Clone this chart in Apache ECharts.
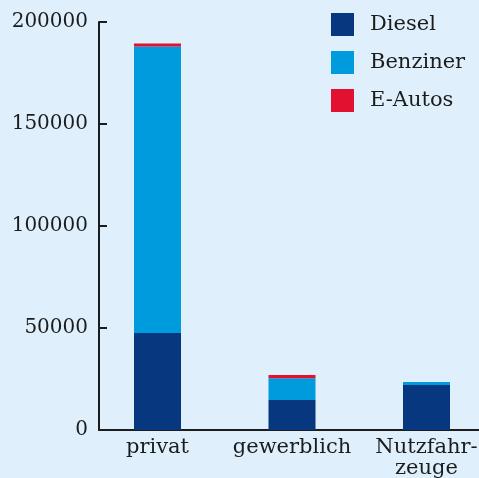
<!DOCTYPE html>
<html>
<head>
<meta charset="utf-8">
<script src="https://cdn.jsdelivr.net/npm/echarts@6/dist/echarts.min.js"></script>
<style>
  html, body { margin: 0; padding: 0; background: #dff0fc; }
  #main { width: 479px; height: 478px; }
</style>
</head>
<body>
<div id="main"></div>
<script>
// Daten
const categories = ['privat', 'gewerblich', 'Nutzfahr-\nzeuge'];
const diesel = [47500, 14700, 22000];
const benziner = [140500, 10700, 1500];
const eAutos = [1500, 1600, 0];
const yTicks = [0, 50000, 100000, 150000, 200000];

const font = 'DejaVu Serif';
const ink = '#1c1c1c';

const myChart = echarts.init(document.getElementById('main'));

const option = {
    animation: false,
    backgroundColor: '#dff0fc',
    legend: {
        orient: 'vertical',
        left: 326,
        top: 8,
        itemWidth: 23,
        itemHeight: 23,
        itemGap: 15,
        icon: 'rect',
        textStyle: {
            fontFamily: font,
            fontSize: 21,
            color: ink,
            padding: [2, 0, 0, 11]
        },
        data: ['Diesel', 'Benziner', 'E-Autos']
    },
    grid: [
        // Balken: Kategorien sitzen auf den Rändern (boundaryGap false)
        { left: 157.5, right: 52.5, top: 22, bottom: 48, containLabel: false, outerBoundsMode: 'none' },
        // Achsenlinien
        { left: 99, right: 0, top: 22, bottom: 48, containLabel: false, outerBoundsMode: 'none' }
    ],
    xAxis: [{
        gridIndex: 0,
        type: 'category',
        data: categories,
        boundaryGap: false,
        axisLine: { show: false },
        axisTick: { show: false },
        axisLabel: {
            interval: 0,
            margin: 7,
            fontFamily: font,
            fontSize: 21,
            lineHeight: 21,
            color: ink
        }
    }, {
        gridIndex: 1,
        type: 'value',
        min: 0,
        max: 1,
        axisLine: { show: true, lineStyle: { color: ink, width: 2 } },
        axisTick: { show: false },
        axisLabel: { show: false },
        splitLine: { show: false }
    }],
    yAxis: [{
        gridIndex: 0,
        type: 'value',
        min: yTicks[0],
        max: yTicks[yTicks.length - 1],
        show: false,
        splitLine: { show: false }
    }, {
        gridIndex: 1,
        type: 'value',
        min: yTicks[0],
        max: yTicks[yTicks.length - 1],
        interval: 50000,
        axisLine: { show: true, lineStyle: { color: ink, width: 2 } },
        axisTick: { show: true, inside: true, length: 8, lineStyle: { color: ink, width: 2 } },
        axisLabel: {
            margin: 11,
            fontFamily: font,
            fontSize: 20,
            color: ink,
            formatter: function (v) { return String(v); }
        },
        splitLine: { show: false }
    }],
    series: [{
        name: 'Diesel',
        type: 'bar',
        stack: 'kfz',
        barWidth: 47,
        clip: false,
        data: diesel,
        itemStyle: { color: '#06377f' }
    }, {
        name: 'Benziner',
        type: 'bar',
        stack: 'kfz',
        barWidth: 47,
        clip: false,
        data: benziner,
        itemStyle: { color: '#009bdd' }
    }, {
        name: 'E-Autos',
        type: 'bar',
        stack: 'kfz',
        barWidth: 47,
        clip: false,
        data: eAutos,
        itemStyle: { color: '#e2112f' }
    }]
};
myChart.setOption(option);
</script>
</body>
</html>
